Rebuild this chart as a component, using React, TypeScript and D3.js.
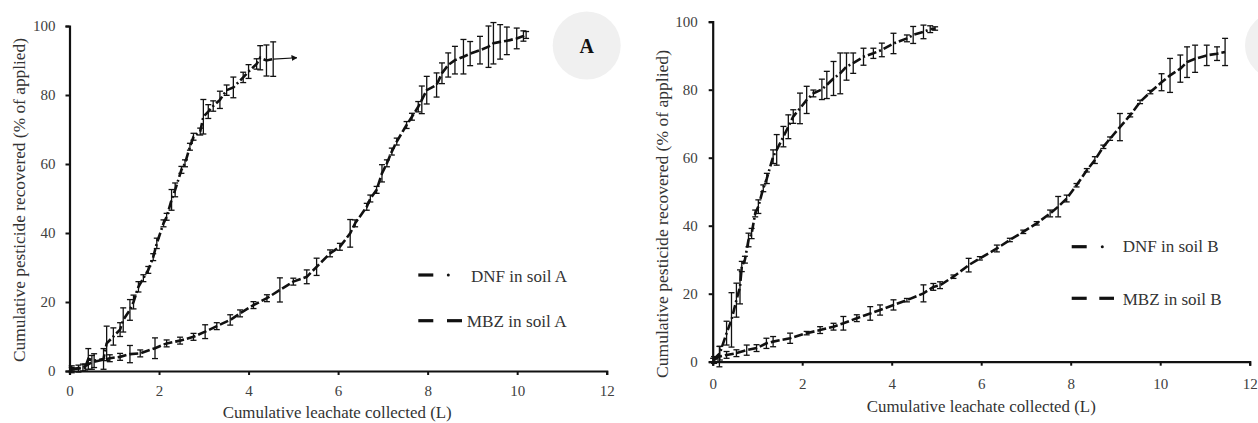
import React, { useEffect, useRef } from "react";
import * as d3 from "d3";

// ---------- data ----------
const xTicks = [0, 2, 4, 6, 8, 10, 12];
const yTicks = [0, 20, 40, 60, 80, 100];

const dnfAx = [0.05, 0.2, 0.35, 0.42, 0.55, 0.76, 0.83, 0.98, 1.13, 1.2, 1.35, 1.43, 1.54, 1.65, 1.76, 1.87, 1.95, 2.1, 2.17, 2.28, 2.36, 2.5, 2.58, 2.69, 2.77, 2.92, 2.99, 3.1, 3.21, 3.36, 3.51, 3.66, 3.88, 4.0, 4.18, 4.26, 4.4, 4.55];
const dnfAy = [0.5, 0.7, 1.0, 3.5, 3, 3.5, 8, 10, 12, 14.8, 17.7, 20, 24.4, 26.9, 29.3, 33, 37, 42.8, 44.7, 49.6, 52.5, 58.3, 60.2, 65, 67.9, 69.4, 73.7, 75.2, 76.8, 78.6, 81.4, 82.2, 85.1, 86.8, 89, 90.8, 90, 90.4];
const dnfAe = [1, 1, 1, 3, 2, 3, 5, 2.5, 2, 3.5, 3, 2, 1.5, 1, 1, 1, 1.5, 1, 1, 3, 2, 1, 1, 1, 1, 1, 5, 2, 1.5, 2.5, 1.5, 3, 1.5, 2, 1.5, 3.5, 4.5, 5];
const dnfAEnd = [5.08, 90.8];

const mbzAx = [0.05, 0.3, 0.5, 0.9, 1.13, 1.35, 1.58, 1.91, 2.17, 2.47, 2.77, 3.03, 3.29, 3.59, 3.81, 4.11, 4.41, 4.7, 5.0, 5.3, 5.52, 5.82, 6.04, 6.27, 6.38, 6.64, 6.72, 6.86, 6.98, 7.09, 7.2, 7.31, 7.53, 7.65, 7.79, 7.87, 7.98, 8.2, 8.32, 8.46, 8.61, 8.8, 8.95, 9.17, 9.36, 9.47, 9.62, 9.77, 9.99, 10.14, 10.2];
const mbzAy = [0.5, 1.0, 2.5, 3.7, 4.1, 4.9, 5.1, 6.6, 8, 8.8, 9.9, 11.4, 13, 14.8, 16.7, 19.1, 21.1, 23.5, 25.9, 27.3, 30.2, 34.1, 36, 39.9, 42.8, 47.6, 50, 52.5, 57.3, 60.2, 63.6, 66.5, 71.3, 73.7, 76.6, 78.6, 81.4, 82.9, 86.3, 88.7, 90.1, 91.1, 92, 93, 94, 95, 95.4, 95.7, 96.4, 97.1, 97.4];
const mbzAe = [0.5, 1, 2, 1, 1, 2.5, 1, 3, 1, 1, 1, 2, 1, 1.5, 1, 1, 1, 3.5, 1, 2, 2.5, 1, 1, 4, 1, 1, 1, 1, 2.5, 1, 1, 1, 1, 1, 1.5, 4, 4, 3.5, 3, 3.5, 4, 5, 3.5, 4, 6, 6, 5, 4, 3, 1.5, 1];

const dnfBx = [0.01, 0.16, 0.31, 0.42, 0.53, 0.61, 0.65, 0.72, 0.8, 0.87, 0.95, 1.02, 1.13, 1.21, 1.35, 1.43, 1.58, 1.69, 1.8, 1.95, 2.1, 2.25, 2.44, 2.55, 2.7, 2.85, 2.99, 3.14, 3.37, 3.59, 3.78, 4.04, 4.34, 4.48, 4.71, 4.86, 4.97];
const dnfBy = [0.5, 2.5, 8.4, 12.3, 18.1, 22, 28, 30, 35.8, 37.7, 43.6, 45.6, 51, 53.9, 60.3, 62.3, 66.2, 69.1, 72.1, 74.5, 77, 78.9, 80.1, 81.4, 83.3, 84.8, 86.8, 87.8, 89.7, 90.7, 91.7, 93.6, 95.1, 96.1, 97, 97.8, 98];
const dnfBe = [0.5, 2, 3.5, 8, 5, 5, 1.5, 1, 2, 1.5, 1, 2, 1, 1.5, 2, 4.5, 3, 3.5, 2, 4.5, 4, 1, 3, 4, 5, 6, 4, 3, 2.5, 1.5, 2, 3, 1, 2.5, 2, 1, 0.5];

const mbzBx = [0.03, 0.15, 0.31, 0.53, 0.76, 0.98, 1.2, 1.35, 1.73, 2.1, 2.4, 2.7, 2.92, 3.22, 3.52, 3.74, 4.04, 4.34, 4.71, 4.93, 5.08, 5.38, 5.72, 5.97, 6.35, 6.64, 6.94, 7.24, 7.54, 7.72, 7.91, 8.13, 8.36, 8.54, 8.73, 8.88, 9.1, 9.33, 9.55, 9.78, 10.03, 10.22, 10.45, 10.6, 10.78, 11.04, 11.27, 11.45];
const mbzBy = [0.5, 1.5, 2, 2.5, 3.4, 4, 5.4, 5.9, 6.9, 8.4, 9.3, 10.3, 11.3, 12.8, 14.2, 15.2, 16.7, 18.1, 20.1, 22, 22.5, 25, 28.4, 30.4, 33.3, 35.8, 38.2, 40.7, 43.6, 45.6, 48, 51.9, 56.3, 59.3, 63.2, 65.6, 69, 72.5, 76.4, 79.3, 82.2, 84.2, 86.2, 88.1, 89.1, 90.1, 90.6, 91.1];
const mbzBe = [1, 3, 1, 1, 1.5, 1, 1.5, 1.5, 1.5, 0.5, 1, 1, 2, 1, 2, 1.5, 1.5, 0.5, 2.5, 1, 1, 0.5, 2, 0.5, 1, 0.5, 0.5, 0.5, 1, 3, 1, 0.5, 0.5, 1, 0.5, 0.5, 4, 0.5, 0.5, 0.5, 2.5, 5, 4, 4.5, 4, 3, 2, 4];

const xTitle = "Cumulative leachate collected (L)";
const yTitle = "Cumulative pesticide recovered (% of applied)";

const panels = [
  {
    key: "A",
    showKey: true,
    xr: [69.5, 606.7], yr: [371, 26],
    series: [
      { x: dnfAx, y: dnfAy, e: dnfAe, dash: "9,3,2,3", label: "DNF in soil A" },
      { x: mbzAx, y: mbzAy, e: mbzAe, dash: "9,3", label: "MBZ in soil A" },
    ],
    xLabelPad: 10, yLabelPad: 10,
    xTitlePos: [337.2, 418], yTitlePos: [25, 200], titleLen: [229, 324],
    legend: [
      { y: 275, textX: 471, base: 281.7, len: 96, segs: [[418.3, 433.3]], dot: 448.3 },
      { y: 320.7, textX: 466.7, base: 327.3, len: 100, segs: [[418.3, 433.3], [447, 462]], dot: null },
    ],
    circle: [586.7, 45.5],
  },
  {
    key: "B",
    showKey: false,
    xr: [712.7, 1249.7], yr: [361.7, 21.7],
    series: [
      { x: dnfBx, y: dnfBy, e: dnfBe, dash: "9,3,2,3", label: "DNF in soil B" },
      { x: mbzBx, y: mbzBy, e: mbzBe, dash: "9,3", label: "MBZ in soil B" },
    ],
    xLabelPad: 13, yLabelPad: 11,
    xTitlePos: [981.3, 412], yTitlePos: [668, 214], titleLen: [229, 328],
    legend: [
      { y: 246.7, textX: 1122.7, base: 251.7, len: 96, segs: [[1071.7, 1086.7]], dot: 1102.3 },
      { y: 298.3, textX: 1122.7, base: 304.5, len: 99, segs: [[1071.7, 1086.7], [1099.3, 1114]], dot: null },
    ],
    circle: [1279, 45.5],
  },
];

const FONT = '"Times New Roman", "Liberation Serif", Times, serif';

export default function App() {
  const ref = useRef<SVGSVGElement>(null);

  useEffect(() => {
    const svg = d3.select(ref.current);
    svg.selectAll("*").remove();

    const defs = svg.append("defs");
    defs.append("marker")
      .attr("id", "arrow")
      .attr("viewBox", "0 0 10 10")
      .attr("refX", 9).attr("refY", 5)
      .attr("markerWidth", 6).attr("markerHeight", 6)
      .attr("markerUnits", "userSpaceOnUse")
      .attr("orient", "auto")
      .append("path").attr("d", "M0,0 L10,5 L0,10 Z").attr("fill", "#111");

    panels.forEach((p) => {
      const g = svg.append("g");
      const x = d3.scaleLinear().domain([0, 12]).range(p.xr);
      const y = d3.scaleLinear().domain([0, 100]).range(p.yr);

      // circle badge
      g.append("circle").attr("cx", p.circle[0]).attr("cy", p.circle[1]).attr("r", 34).attr("fill", "#f0f0f0");
      if (p.showKey) {
        g.append("text").attr("x", p.circle[0]).attr("y", p.circle[1] + 7.5)
          .attr("text-anchor", "middle").style("font-family", FONT).attr("font-weight", "bold")
          .style("font-size", "20px").attr("fill", "#111").text(p.key);
      }

      // series
      p.series.forEach((s, si) => {
        const pts = s.x.map((xv, i) => ({ x: xv, y: s.y[i], e: s.e[i] }));
        const eb = g.append("g").attr("stroke", "#111").attr("stroke-width", 1.3).attr("fill", "none");
        pts.forEach((d) => {
          if (d.e <= 0) return;
          const cx = x(d.x);
          const y1 = y(d.y + d.e), y2 = y(d.y - d.e);
          eb.append("line").attr("x1", cx).attr("x2", cx).attr("y1", y1).attr("y2", y2);
          eb.append("line").attr("x1", cx - 3).attr("x2", cx + 3).attr("y1", y1).attr("y2", y1);
          eb.append("line").attr("x1", cx - 3).attr("x2", cx + 3).attr("y1", y2).attr("y2", y2);
        });
        const line = d3.line<{ x: number; y: number }>().x((d) => x(d.x)).y((d) => y(d.y)).curve(d3.curveLinear);
        g.append("path").attr("d", line(pts)).attr("fill", "none").attr("stroke", "#111")
          .attr("stroke-width", 2.6).attr("stroke-dasharray", s.dash);
        if (p.key === "A" && si === 0) {
          const last = pts[pts.length - 1];
          g.append("line").attr("x1", x(last.x)).attr("y1", y(last.y))
            .attr("x2", x(dnfAEnd[0])).attr("y2", y(dnfAEnd[1]))
            .attr("stroke", "#111").attr("stroke-width", 1.2).attr("marker-end", "url(#arrow)");
        }
      });

      // axes
      const xAxis = d3.axisBottom(x).tickValues(xTicks).tickSize(4).tickPadding(p.xLabelPad).tickFormat(d3.format("d") as any);
      const yAxis = d3.axisLeft(y).tickValues(yTicks).tickSize(4).tickPadding(p.yLabelPad).tickFormat(d3.format("d") as any);
      const gx = g.append("g").attr("transform", `translate(0,${p.yr[0]})`).call(xAxis);
      const gy = g.append("g").attr("transform", `translate(${p.xr[0]},0)`).call(yAxis);
      [gx, gy].forEach((ga) => {
        ga.attr("font-family", null).attr("font-size", null);
        ga.select(".domain").attr("stroke", "#111").attr("stroke-width", 2.2);
        ga.selectAll(".tick line").attr("stroke", "#111").attr("stroke-width", 2);
        ga.selectAll(".tick text").style("font-family", FONT).style("font-size", "15px").attr("fill", "#404040");
      });

      // titles
      g.append("text").attr("x", p.xTitlePos[0]).attr("y", p.xTitlePos[1])
        .attr("text-anchor", "middle").style("font-family", FONT).style("font-size", "17px")
        .attr("fill", "#333").attr("textLength", p.titleLen[0]).attr("lengthAdjust", "spacingAndGlyphs")
        .text(xTitle);
      g.append("text").attr("transform", `translate(${p.yTitlePos[0]},${p.yTitlePos[1]}) rotate(-90)`)
        .attr("text-anchor", "middle").style("font-family", FONT).style("font-size", "17px")
        .attr("fill", "#333").attr("textLength", p.titleLen[1]).attr("lengthAdjust", "spacingAndGlyphs")
        .text(yTitle);

      // legend
      p.legend.forEach((l, li) => {
        l.segs.forEach((sg) => {
          g.append("line").attr("x1", sg[0]).attr("x2", sg[1]).attr("y1", l.y).attr("y2", l.y)
            .attr("stroke", "#111").attr("stroke-width", 3.2);
        });
        if (l.dot !== null) {
          g.append("circle").attr("cx", l.dot).attr("cy", l.y).attr("r", 1.5).attr("fill", "#111");
        }
        g.append("text").attr("x", l.textX).attr("y", l.base).style("font-family", FONT)
          .style("font-size", "16px").attr("fill", "#333")
          .attr("textLength", l.len).attr("lengthAdjust", "spacingAndGlyphs")
          .text(p.series[li].label);
      });
    });
  }, []);

  return (
    <svg ref={ref} width={1258} height={423}
      style={{ position: "absolute", left: 0, top: 0, background: "#fff" }} />
  );
}
